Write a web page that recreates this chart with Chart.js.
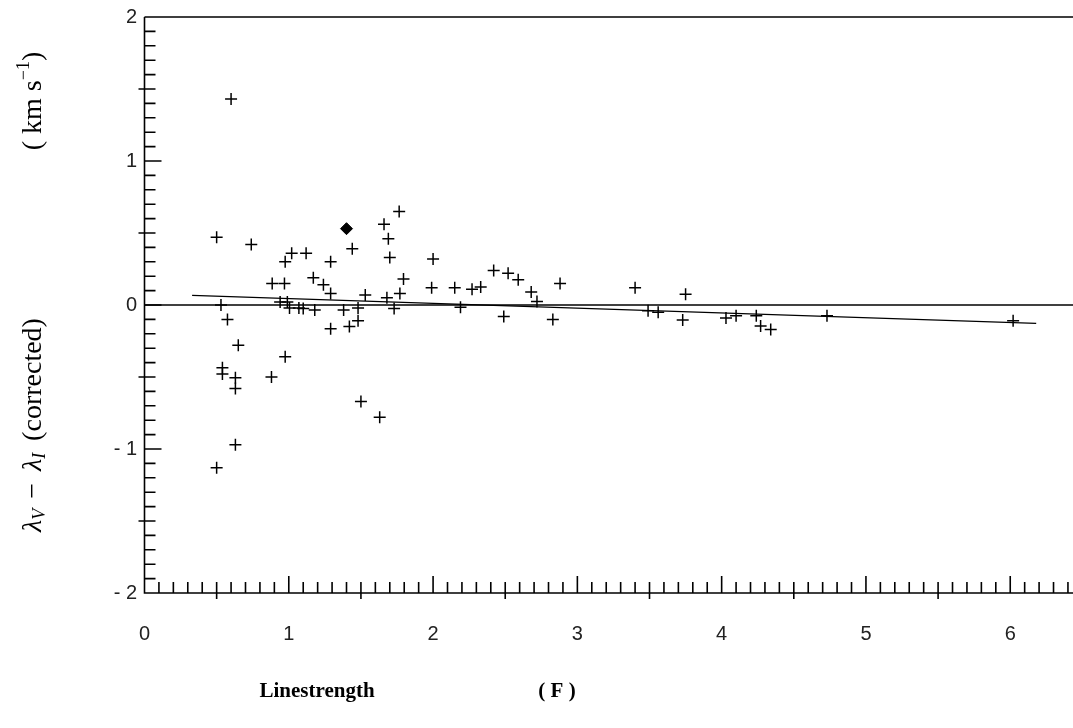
<!DOCTYPE html>
<html>
<head>
<meta charset="utf-8">
<script src="https://cdn.jsdelivr.net/npm/chart.js@4"></script>
<style>
  html, body { margin: 0; padding: 0; background: #fff; }
  #grafico { display: block; }
</style>
</head>
<body>
<canvas id="grafico" width="1073" height="728"></canvas>
<script>
// Datos
const linestrength = [
  0.50, 0.74, 0.60, 1.66, 1.765, 1.69, 1.70, 1.44, 1.02, 0.975,
  1.12, 1.29, 2.00, 2.42, 0.885, 0.97, 1.17, 1.24, 1.29, 1.53,
  1.68, 1.77, 1.795, 1.99, 2.15, 2.27, 2.33, 0.94, 0.99, 1.005,
  1.07, 1.10, 1.18, 0.53, 0.575, 0.65, 0.54, 0.54, 0.63, 0.63,
  0.88, 0.975, 0.63, 0.50, 1.50, 1.63, 1.29, 1.38, 1.42, 1.48,
  1.48, 1.73, 2.19, 2.49, 2.52, 2.59, 2.68, 2.72, 2.88, 2.83,
  3.40, 3.49, 3.56, 3.75, 3.73, 4.03, 4.10, 4.24, 4.27, 4.34,
  4.73, 6.02
];
const diferencia = [
  0.47, 0.42, 1.43, 0.56, 0.65, 0.46, 0.33, 0.39, 0.36, 0.30,
  0.36, 0.30, 0.32, 0.24, 0.15, 0.15, 0.19, 0.14, 0.08, 0.07,
  0.05, 0.08, 0.18, 0.12, 0.12, 0.11, 0.125, 0.02, 0.02, -0.02,
  -0.02, -0.025, -0.035, 0.0, -0.10, -0.28, -0.435, -0.48, -0.505, -0.58,
  -0.50, -0.36, -0.97, -1.13, -0.67, -0.78, -0.165, -0.035, -0.15, -0.02,
  -0.11, -0.025, -0.015, -0.08, 0.22, 0.175, 0.09, 0.025, 0.15, -0.10,
  0.12, -0.04, -0.05, 0.075, -0.105, -0.09, -0.075, -0.075, -0.145, -0.17,
  -0.075, -0.11
];
// punto destacado (rombo)
const marcadoX = [1.40];
const marcadoY = [0.53];
// linea de cero y ajuste
const ceroX = [0, 6.435];
const ceroY = [0, 0];
const ajusteX = [0.33, 6.18];
const ajusteY = [0.067, -0.127];
// etiquetas de los ejes
const ticksX = [0, 1, 2, 3, 4, 5, 6];
const ticksY = [2, 1, 0, -1, -2];
const etiquetasY = ['2', '1', '0', '- 1', '- 2'];

function aPuntos(xs, ys) {
  return xs.map((v, i) => ({ x: v, y: ys[i] }));
}

// Escribe un texto compuesto por partes (rotado), centrado en c
function textoPartes(ctx, partes, c) {
  let total = 0;
  partes.forEach(p => {
    ctx.font = p.f;
    p.w = ctx.measureText(p.t).width + (p.gap || 0);
    total += p.w;
  });
  let pos = c - total / 2;
  ctx.textAlign = 'left';
  partes.forEach(p => {
    ctx.font = p.f;
    ctx.fillText(p.t, pos, p.dy);
    pos += p.w;
  });
}

// Dibuja ejes, marcas y textos
const ejes = {
  id: 'ejes',
  afterDraw(chart) {
    const ctx = chart.ctx;
    const { left, right, top, bottom } = chart.chartArea;
    const sx = chart.scales.x;
    const sy = chart.scales.y;

    ctx.save();
    ctx.strokeStyle = '#000';
    ctx.lineWidth = 1.6;
    ctx.beginPath();
    ctx.moveTo(left, top);
    ctx.lineTo(right, top);
    ctx.moveTo(left, top);
    ctx.lineTo(left, bottom);
    ctx.lineTo(right, bottom);

    // marcas del eje x cada 0.1
    for (let i = 1; i <= 64; i++) {
      const px = sx.getPixelForValue(i / 10);
      if (i % 10 === 0) {
        ctx.moveTo(px, bottom); ctx.lineTo(px, bottom - 17);
      } else if (i % 5 === 0) {
        ctx.moveTo(px, bottom + 6); ctx.lineTo(px, bottom - 11);
      } else {
        ctx.moveTo(px, bottom); ctx.lineTo(px, bottom - 11);
      }
    }
    // marcas del eje y cada 0.1
    for (let i = -20; i <= 20; i++) {
      const py = sy.getPixelForValue(i / 10);
      if (i % 10 === 0) {
        ctx.moveTo(left, py); ctx.lineTo(left + 17, py);
      } else if (i % 5 === 0) {
        ctx.moveTo(left - 6, py); ctx.lineTo(left + 11, py);
      } else {
        ctx.moveTo(left, py); ctx.lineTo(left + 11, py);
      }
    }
    ctx.stroke();

    // etiquetas numericas
    ctx.fillStyle = '#222';
    ctx.font = '20px "Liberation Sans", sans-serif';
    ctx.textAlign = 'center';
    ctx.textBaseline = 'middle';
    ticksX.forEach(v => ctx.fillText(String(v), sx.getPixelForValue(v), 634));
    ctx.textAlign = 'right';
    ticksY.forEach((v, i) => ctx.fillText(etiquetasY[i], 137, sy.getPixelForValue(v)));

    // titulo eje x
    ctx.fillStyle = '#000';
    ctx.font = 'bold 21px "Liberation Serif", serif';
    ctx.textAlign = 'center';
    ctx.textBaseline = 'alphabetic';
    ctx.fillText('Linestrength', 317, 697);
    ctx.fillText('( F )', 557, 697);

    // titulo eje y (rotado)
    ctx.translate(41, 0);
    ctx.rotate(-Math.PI / 2);
    const serif = '"Liberation Serif", serif';
    textoPartes(ctx, [
      { t: '\u03BB', f: 'italic 28px ' + serif, dy: 0 },
      { t: 'V', f: 'italic 18px ' + serif, dy: 4, gap: 10 },
      { t: '\u2212', f: '28px ' + serif, dy: 0, gap: 12 },
      { t: '\u03BB', f: 'italic 28px ' + serif, dy: 0 },
      { t: 'I', f: 'italic 18px ' + serif, dy: 4, gap: 12 },
      { t: '(corrected)', f: '28px ' + serif, dy: 0 }
    ], -425);

    textoPartes(ctx, [
      { t: '(', f: '28px ' + serif, dy: 0, gap: 7 },
      { t: 'km s', f: '28px ' + serif, dy: 0 },
      { t: '\u22121', f: '18px ' + serif, dy: -12 },
      { t: ')', f: '28px ' + serif, dy: 0 }
    ], -101);
    ctx.restore();
  }
};

const ctx = document.getElementById('grafico').getContext('2d');

new Chart(ctx, {
  type: 'scatter',
  data: {
    datasets: [
      {
        data: aPuntos(linestrength, diferencia),
        pointStyle: 'cross',
        pointRadius: 6,
        borderColor: '#000',
        borderWidth: 1.5
      },
      {
        data: aPuntos(marcadoX, marcadoY),
        pointStyle: 'rectRot',
        pointRadius: 6,
        backgroundColor: '#000',
        borderColor: '#000',
        borderWidth: 1
      },
      {
        type: 'line',
        data: aPuntos(ceroX, ceroY),
        borderColor: '#000',
        borderWidth: 1.5,
        pointRadius: 0,
        tension: 0
      },
      {
        type: 'line',
        data: aPuntos(ajusteX, ajusteY),
        borderColor: '#000',
        borderWidth: 1.3,
        pointRadius: 0,
        tension: 0
      }
    ]
  },
  options: {
    responsive: false,
    animation: false,
    layout: { autoPadding: false, padding: { left: 144.5, right: 0, top: 17, bottom: 135 } },
    scales: {
      x: { type: 'linear', min: 0, max: 6.435, display: false },
      y: { type: 'linear', min: -2, max: 2, display: false }
    },
    plugins: {
      legend: { display: false },
      tooltip: { enabled: false }
    }
  },
  plugins: [ejes]
});
</script>
</body>
</html>
